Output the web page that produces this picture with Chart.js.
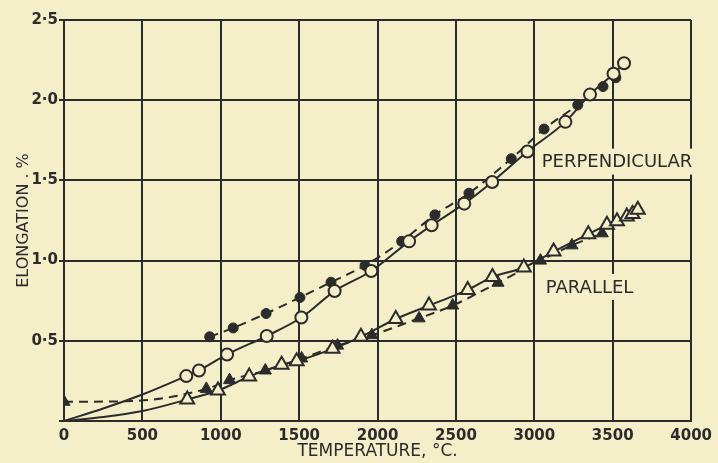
<!DOCTYPE html>
<html>
<head>
<meta charset="utf-8">
<script src="https://cdn.jsdelivr.net/npm/chart.js@4"></script>
<style>
  html, body { margin: 0; padding: 0; background: #f4eec9; }
  canvas { display: block; }
</style>
</head>
<body>
<canvas id="chart" width="718" height="463"></canvas>
<script>
// Perpendicular, open circles (solid curve from origin)
const perpOpenT = [780, 861, 1040, 1293, 1514, 1726, 1960, 2201, 2345, 2553, 2731, 2956, 3198, 3355, 3505, 3572];
const perpOpenV = [0.28, 0.315, 0.415, 0.53, 0.645, 0.81, 0.935, 1.12, 1.22, 1.355, 1.49, 1.68, 1.865, 2.035, 2.165, 2.23];
const perpLeadT = [0, 250, 500];
const perpLeadV = [0, 0.078, 0.165];

// Perpendicular, filled circles (dashed)
const perpFilledT = [929, 1079, 1289, 1505, 1703, 1920, 2154, 2366, 2583, 2853, 3062, 3277, 3438, 3520];
const perpFilledV = [0.525, 0.58, 0.67, 0.77, 0.865, 0.97, 1.12, 1.285, 1.42, 1.635, 1.82, 1.97, 2.085, 2.14];

// Parallel, open triangles (solid curve from origin)
const parOpenT = [786, 982, 1181, 1388, 1484, 1713, 1894, 2116, 2328, 2575, 2733, 2933, 3123, 3344, 3463, 3527, 3590, 3626, 3660];
const parOpenV = [0.134, 0.19, 0.277, 0.35, 0.373, 0.45, 0.525, 0.636, 0.72, 0.817, 0.898, 0.957, 1.056, 1.165, 1.223, 1.245, 1.275, 1.29, 1.317];
const parLeadT = [0, 250, 500];
const parLeadV = [0, 0.025, 0.062];

// Parallel, filled triangles (dashed)
const parFilledT = [0, 908, 1056, 1284, 1516, 1745, 1964, 2265, 2479, 2768, 3039, 3240, 3433];
const parFilledV = [0.12, 0.2, 0.255, 0.315, 0.39, 0.47, 0.535, 0.64, 0.72, 0.862, 1.0, 1.095, 1.17];
const parGuideT = [450];
const parGuideV = [0.125];

const yTickLabels = { 0.5: '0·5', 1: '1·0', 1.5: '1·5', 2: '2·0', 2.5: '2·5' };

const PAPER = '#f4eec9';
const INK = '#2b2b2b';

// merge marked points and unmarked guide points into one sorted line
function buildPoints(markT, markV, guideT, guideV) {
    const pts = markT.map((t, i) => ({ x: t, y: markV[i], hidden: false }));
    guideT.forEach((t, i) => pts.push({ x: t, y: guideV[i], hidden: true }));
    return pts.sort((a, b) => a.x - b.x);
}

function radiusFor(r) {
    return ctx => (ctx.raw && ctx.raw.hidden) ? 0 : r;
}

const labelsPlugin = {
    id: 'curveLabels',
    afterDatasetsDraw(chart) {
        const c = chart.ctx;
        const xs = chart.scales.x, ys = chart.scales.y;
        const items = [
            { text: 'PERPENDICULAR', t: 3047, v: 1.617 },
            { text: 'PARALLEL', t: 3073, v: 0.836 }
        ];
        c.save();
        c.font = '18px "DejaVu Sans"';
        c.textBaseline = 'middle';
        c.textAlign = 'left';
        items.forEach(it => {
            const x = xs.getPixelForValue(it.t);
            const y = ys.getPixelForValue(it.v);
            const w = c.measureText(it.text).width;
            c.fillStyle = PAPER;
            c.fillRect(x - 3, y - 13, w + 6, 26);
            c.fillStyle = INK;
            c.fillText(it.text, x, y + 1);
        });
        c.restore();
    }
};

new Chart(document.getElementById('chart'), {
    type: 'line',
    data: {
        datasets: [
            {
                label: 'Perpendicular (open)',
                data: buildPoints(perpOpenT, perpOpenV, perpLeadT, perpLeadV),
                borderColor: INK,
                borderWidth: 2,
                pointStyle: 'circle',
                pointRadius: radiusFor(6),
                pointBackgroundColor: PAPER,
                pointBorderColor: INK,
                pointBorderWidth: 2,
                cubicInterpolationMode: 'monotone'
            },
            {
                label: 'Parallel (open)',
                data: buildPoints(parOpenT, parOpenV, parLeadT, parLeadV),
                borderColor: INK,
                borderWidth: 2,
                pointStyle: 'triangle',
                pointRadius: radiusFor(8),
                pointBackgroundColor: PAPER,
                pointBorderColor: INK,
                pointBorderWidth: 2,
                cubicInterpolationMode: 'monotone'
            },
            {
                label: 'Perpendicular (filled)',
                data: buildPoints(perpFilledT, perpFilledV, [], []),
                borderColor: INK,
                borderWidth: 2,
                borderDash: [9, 6],
                pointStyle: 'circle',
                pointRadius: radiusFor(5),
                pointBackgroundColor: INK,
                pointBorderColor: INK,
                pointBorderWidth: 1,
                cubicInterpolationMode: 'monotone'
            },
            {
                label: 'Parallel (filled)',
                data: buildPoints(parFilledT, parFilledV, parGuideT, parGuideV),
                borderColor: INK,
                borderWidth: 2,
                borderDash: [9, 6],
                pointStyle: 'triangle',
                pointRadius: radiusFor(7),
                pointBackgroundColor: INK,
                pointBorderColor: INK,
                pointBorderWidth: 1,
                cubicInterpolationMode: 'monotone'
            }
        ]
    },
    options: {
        responsive: false,
        animation: false,
        layout: { padding: { top: 20, right: 25, left: 0, bottom: 0 } },
        plugins: {
            legend: { display: false },
            tooltip: { enabled: false }
        },
        scales: {
            x: {
                type: 'linear',
                min: 0,
                max: 4000,
                afterFit: s => { s.height = 42; },
                ticks: {
                    stepSize: 500,
                    color: INK,
                    padding: 6,
                    maxRotation: 0,
                    font: { family: 'DejaVu Sans', size: 15, weight: 'bold' },
                    callback: v => String(v)
                },
                grid: { color: INK, lineWidth: 2, tickLength: 0 },
                border: { color: INK, width: 2 },
                title: {
                    display: true,
                    text: 'TEMPERATURE, °C.',
                    color: INK,
                    padding: { top: 0, bottom: 1 },
                    font: { family: 'DejaVu Sans', size: 17 }
                }
            },
            y: {
                min: 0,
                max: 2.5,
                afterFit: s => { s.width = 64; },
                ticks: {
                    stepSize: 0.5,
                    color: INK,
                    padding: 1,
                    font: { family: 'DejaVu Sans', size: 15, weight: 'bold' },
                    callback: v => yTickLabels[v] || ''
                },
                grid: { color: INK, lineWidth: 2, tickLength: 5 },
                border: { color: INK, width: 2 },
                title: {
                    display: true,
                    text: 'ELONGATION . %',
                    color: INK,
                    padding: { top: 14, bottom: 0 },
                    font: { family: 'DejaVu Sans', size: 16 }
                }
            }
        }
    },
    plugins: [labelsPlugin]
});
</script>
</body>
</html>
